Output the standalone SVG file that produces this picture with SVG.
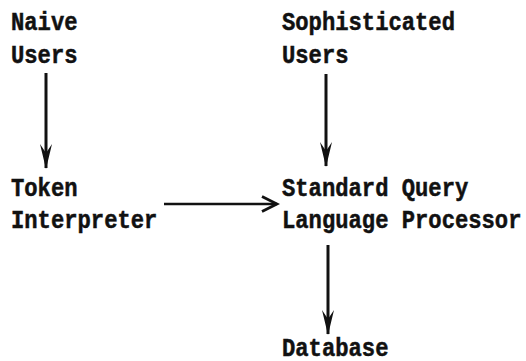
<svg xmlns="http://www.w3.org/2000/svg" width="526" height="361" viewBox="0 0 526 361">
  <style>
    .lbl { font-family: "Liberation Mono", "Courier New", monospace; font-weight: bold; font-size: 26px; fill: #111; stroke: #111; stroke-width: 0.5; }
    .wire { stroke: #111; stroke-width: 3; fill: none; }
    .wire-h { stroke: #111; stroke-width: 2.5; fill: none; }
  </style>
  <defs>
    <!-- barbed filled head for the vertical arrows -->
    <marker id="headDown" markerUnits="userSpaceOnUse" viewBox="-26 -8 28 16" refX="0" refY="0" markerWidth="28" markerHeight="16" orient="auto">
      <path d="M1,0 L-24,-6 L-15,0 L-24,6 Z" fill="#111"/>
    </marker>
    <!-- open chevron head for the horizontal arrow -->
    <marker id="headOpen" markerUnits="userSpaceOnUse" viewBox="-18 -10 21 20" refX="0" refY="0" markerWidth="21" markerHeight="20" orient="auto">
      <path d="M-15,-7.5 L0,0 L-15,7.5" fill="none" stroke="#111" stroke-width="2.8" stroke-linejoin="miter"/>
    </marker>
  </defs>
  <rect width="526" height="361" fill="#fff"/>

  <g id="naive-users">
    <text class="lbl" transform="translate(11,29.5) scale(0.853,1)">Naive</text>
    <text class="lbl" transform="translate(11,62.5) scale(0.853,1)">Users</text>
  </g>
  <g id="sophisticated-users">
    <text class="lbl" transform="translate(282,29.5) scale(0.853,1)">Sophisticated</text>
    <text class="lbl" transform="translate(282,62.5) scale(0.853,1)">Users</text>
  </g>
  <g id="token-interpreter">
    <text class="lbl" transform="translate(11,195.5) scale(0.853,1)">Token</text>
    <text class="lbl" transform="translate(11,228) scale(0.853,1)">Interpreter</text>
  </g>
  <g id="sql-processor">
    <text class="lbl" transform="translate(282,195.5) scale(0.853,1)">Standard Query</text>
    <text class="lbl" transform="translate(282,228) scale(0.853,1)">Language Processor</text>
  </g>
  <g id="database">
    <text class="lbl" transform="translate(282,355.5) scale(0.853,1)">Database</text>
  </g>

  <g id="connectors">
    <line class="wire" x1="46" y1="73" x2="46" y2="168" marker-end="url(#headDown)"/>
    <line class="wire" x1="326" y1="74" x2="326" y2="166" marker-end="url(#headDown)"/>
    <line class="wire-h" x1="164" y1="204" x2="277" y2="204" marker-end="url(#headOpen)"/>
    <line class="wire" x1="328" y1="245" x2="328" y2="334" marker-end="url(#headDown)"/>
  </g>
</svg>
